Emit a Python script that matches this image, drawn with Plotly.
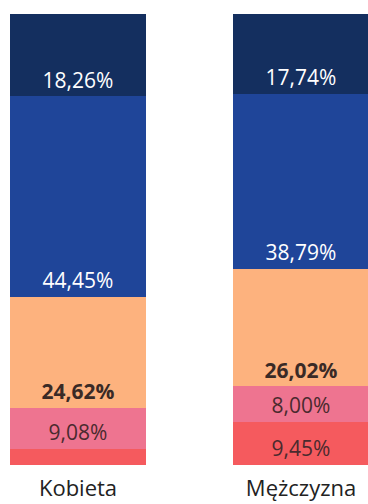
import plotly.graph_objects as go

categories = ["Kobieta", "Mężczyzna"]

# segments listed bottom to top
segment_names = ["czerwony", "różowy", "pomarańczowy", "niebieski", "granatowy"]
values = {
    "czerwony":     [3.59, 9.45],
    "różowy":       [9.08, 8.00],
    "pomarańczowy": [24.62, 26.02],
    "niebieski":    [44.45, 38.79],
    "granatowy":    [18.26, 17.74],
}
show_label = {
    "czerwony":     [False, True],
    "różowy":       [True, True],
    "pomarańczowy": [True, True],
    "niebieski":    [True, True],
    "granatowy":    [True, True],
}

colors = {
    "czerwony": "#f55a5e",
    "różowy": "#ee7490",
    "pomarańczowy": "#fdb27e",
    "niebieski": "#1f4599",
    "granatowy": "#142f5f",
}
text_styles = {
    "czerwony": dict(color="#4a2a2e", size=21, family="Open Sans"),
    "różowy": dict(color="#4a2a2e", size=21, family="Open Sans"),
    "pomarańczowy": dict(color="#3a2a26", size=22, family="Open Sans", weight="bold"),
    "niebieski": dict(color="white", size=22, family="Open Sans"),
    "granatowy": dict(color="white", size=22, family="Open Sans"),
}


def fmt(v):
    return f"{v:.2f}".replace(".", ",") + "%"


fig = go.Figure()
for name in segment_names:
    vals = values[name]
    labels = [fmt(v) if s else "" for v, s in zip(vals, show_label[name])]
    fig.add_trace(go.Bar(
        x=categories,
        y=vals,
        name=name,
        marker=dict(color=colors[name], line=dict(width=0)),
        width=0.61,
        text=labels,
        textposition="inside",
        insidetextanchor="start",
        textangle=0,
        textfont=text_styles[name],
        hoverinfo="skip",
    ))

fig.update_layout(
    barmode="stack",
    width=368,
    height=504,
    margin=dict(l=0, r=0, t=14, b=39),
    paper_bgcolor="white",
    plot_bgcolor="white",
    showlegend=False,
    uniformtext=dict(mode="show", minsize=8),
    xaxis=dict(
        range=[-0.3498, 1.3004],
        showgrid=False,
        zeroline=False,
        showline=False,
        ticks="",
        tickfont=dict(family="Open Sans", size=22, color="#222222"),
        ticklabelstandoff=8,
    ),
    yaxis=dict(
        range=[0, 100],
        visible=False,
        showgrid=False,
        zeroline=False,
    ),
)

fig.write_html("out.html")
